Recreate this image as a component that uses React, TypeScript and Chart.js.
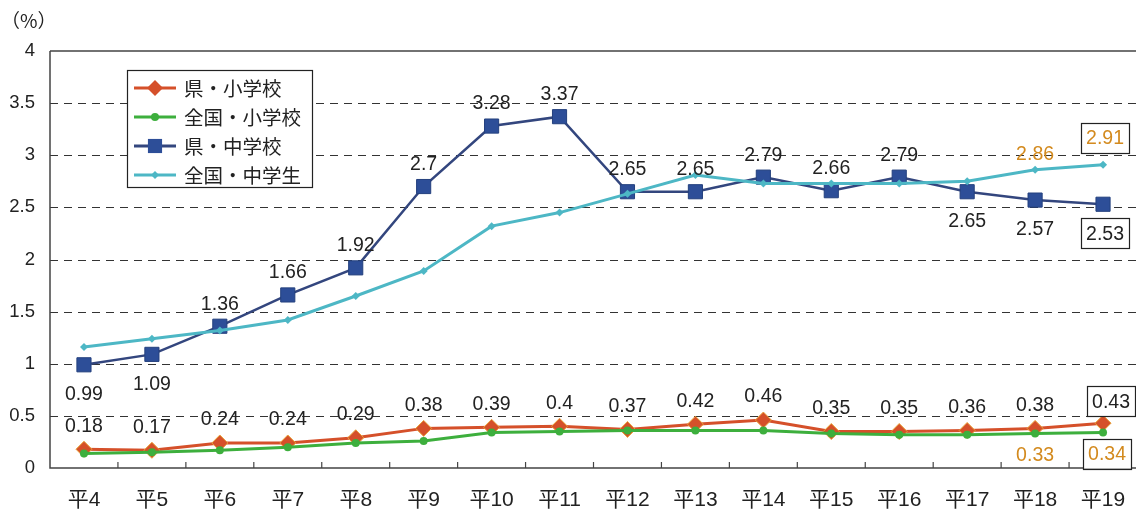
import React, { useEffect, useRef } from 'react';
import { Chart, registerables } from 'chart.js';

Chart.register(...registerables);

const categories = ['平4', '平5', '平6', '平7', '平8', '平9', '平10', '平11', '平12', '平13', '平14', '平15', '平16', '平17', '平18', '平19'];
const kenElem = [0.18, 0.17, 0.24, 0.24, 0.29, 0.38, 0.39, 0.4, 0.37, 0.42, 0.46, 0.35, 0.35, 0.36, 0.38, 0.43];
const zenElem = [0.14, 0.15, 0.17, 0.2, 0.24, 0.26, 0.34, 0.35, 0.36, 0.36, 0.36, 0.33, 0.32, 0.32, 0.33, 0.34];
const kenMid = [0.99, 1.09, 1.36, 1.66, 1.92, 2.7, 3.28, 3.37, 2.65, 2.65, 2.79, 2.66, 2.79, 2.65, 2.57, 2.53];
const zenMid = [1.16, 1.24, 1.32, 1.42, 1.65, 1.89, 2.32, 2.45, 2.63, 2.81, 2.73, 2.73, 2.73, 2.75, 2.86, 2.91];
const seriesNames = ['県・小学校', '全国・小学校', '県・中学校', '全国・中学生'];
const yTickValues = [0, 0.5, 1, 1.5, 2, 2.5, 3, 3.5, 4];

// label placement per point: 'a' above, 'b' below, '' none
const kenElemLabelPos = ['a', 'a', 'a', 'a', 'a', 'a', 'a', 'a', 'a', 'a', 'a', 'a', 'a', 'a', 'a', 'a'];
const zenElemLabelPos = ['', '', '', '', '', '', '', '', '', '', '', '', '', '', 'b', 'b'];
const kenMidLabelPos = ['b', 'b', 'a', 'a', 'a', 'a', 'a', 'a', 'a', 'a', 'a', 'a', 'a', 'b', 'b', 'b'];
const zenMidLabelPos = ['', '', '', '', '', '', '', '', '', '', '', '', '', '', 'a', 'a'];

const NUM_FONT = '"Liberation Sans", "Noto Sans CJK JP", sans-serif';
const JP_FONT = '"Noto Sans CJK JP", sans-serif';
const RED = '#D5502A';
const GREEN = '#3DAF3D';
const BLUE_LINE = '#33467E';
const BLUE_PT = '#2D4E98';
const CYAN = '#4DB7C5';
const ORANGE = '#D38A1E';
const TEXT = '#222222';

export default function App() {
  const ref = useRef<HTMLCanvasElement | null>(null);

  useEffect(() => {
    if (!ref.current) return;

    const decor = {
      id: 'decor',
      beforeDatasetsDraw(chart: any) {
        const { ctx, chartArea } = chart;
        const y = chart.scales.y;
        const x = chart.scales.x;
        ctx.save();
        ctx.strokeStyle = '#333';
        ctx.lineWidth = 1;
        ctx.setLineDash([8, 6]);
        yTickValues.forEach((v) => {
          if (v <= 0 || v >= 4) return;
          const py = Math.round(y.getPixelForValue(v)) + 0.5;
          ctx.beginPath();
          ctx.moveTo(chartArea.left, py);
          ctx.lineTo(chartArea.right, py);
          ctx.stroke();
        });
        ctx.setLineDash([]);
        ctx.lineWidth = 1.5;
        ctx.strokeStyle = '#444';
        ctx.beginPath();
        ctx.moveTo(chartArea.left, chartArea.top);
        ctx.lineTo(chartArea.right, chartArea.top);
        ctx.moveTo(chartArea.left, chartArea.top);
        ctx.lineTo(chartArea.left, chartArea.bottom);
        ctx.lineTo(chartArea.right, chartArea.bottom);
        ctx.stroke();
        // category boundary ticks (pointing up)
        ctx.lineWidth = 1.2;
        for (let i = 1; i < categories.length; i++) {
          const bx = (x.getPixelForValue(i - 1) + x.getPixelForValue(i)) / 2;
          ctx.beginPath();
          ctx.moveTo(bx, chartArea.bottom);
          ctx.lineTo(bx, chartArea.bottom - 6);
          ctx.stroke();
        }
        ctx.restore();
      },
      afterDatasetsDraw(chart: any) {
        const { ctx } = chart;
        const specs = [
          { data: kenElem, pos: kenElemLabelPos, color: TEXT, up: -24, down: 24 },
          { data: zenElem, pos: zenElemLabelPos, color: ORANGE, up: -24, down: 21 },
          { data: kenMid, pos: kenMidLabelPos, color: TEXT, up: -23, down: 29 },
          { data: zenMid, pos: zenMidLabelPos, color: ORANGE, up: -16, down: 24 },
        ];
        ctx.save();
        ctx.font = `19.5px ${NUM_FONT}`;
        ctx.textAlign = 'center';
        ctx.textBaseline = 'middle';
        specs.forEach((s, di) => {
          const meta = chart.getDatasetMeta(di);
          s.data.forEach((v, i) => {
            const p = s.pos[i];
            if (!p) return;
            const el = meta.data[i];
            const txt = String(v);
            const last = i === s.data.length - 1;
            let cy = el.y + (p === 'a' ? s.up : s.down);
            if (last && di === 3) cy = el.y - 27;
            if (last && di === 0) cy = el.y - 22;
            let cx = el.x;
            if (last) cx = di === 0 ? el.x + 8 : di === 1 ? el.x + 4 : el.x + 2;
            if (last) {
              const w = ctx.measureText(txt).width + 10;
              const h = 30;
              ctx.fillStyle = '#fff';
              ctx.fillRect(cx - w / 2, cy - h / 2, w, h);
              ctx.strokeStyle = '#222';
              ctx.lineWidth = 1.2;
              ctx.strokeRect(Math.round(cx - w / 2) + 0.5, Math.round(cy - h / 2) + 0.5, Math.round(w), h);
            }
            ctx.fillStyle = s.color;
            ctx.fillText(txt, cx, cy + 1);
          });
        });
        ctx.restore();
      },
      afterDraw(chart: any) {
        const { ctx } = chart;
        ctx.save();
        // unit
        ctx.fillStyle = TEXT;
        ctx.font = `19px ${JP_FONT}`;
        ctx.textAlign = 'left';
        ctx.textBaseline = 'middle';
        ctx.fillText('（%）', 1, 21);
        // legend
        const bx = 127, by = 70, bw = 185, bh = 117;
        ctx.fillStyle = '#fff';
        ctx.fillRect(bx, by, bw, bh);
        ctx.strokeStyle = '#222';
        ctx.lineWidth = 1.2;
        ctx.strokeRect(bx + 0.5, by + 0.5, bw, bh);
        const rows = [
          { c: RED, pc: RED, style: 'rectRot', r: 8, lw: 3 },
          { c: GREEN, pc: GREEN, style: 'circle', r: 4, lw: 3 },
          { c: BLUE_LINE, pc: BLUE_PT, style: 'rect', r: 10, lw: 3 },
          { c: CYAN, pc: CYAN, style: 'rectRot', r: 4, lw: 3 },
        ];
        rows.forEach((r, i) => {
          const ry = by + 18 + i * 29;
          ctx.strokeStyle = r.c;
          ctx.lineWidth = r.lw;
          ctx.beginPath();
          ctx.moveTo(bx + 7, ry);
          ctx.lineTo(bx + 49, ry);
          ctx.stroke();
          ctx.fillStyle = r.pc;
          ctx.beginPath();
          const cx = bx + 28;
          if (r.style === 'rectRot') {
            ctx.moveTo(cx, ry - r.r);
            ctx.lineTo(cx + r.r, ry);
            ctx.lineTo(cx, ry + r.r);
            ctx.lineTo(cx - r.r, ry);
            ctx.closePath();
          } else if (r.style === 'circle') {
            ctx.arc(cx, ry, r.r, 0, Math.PI * 2);
          } else {
            const s = r.r * Math.SQRT1_2;
            ctx.rect(cx - s, ry - s, 2 * s, 2 * s);
          }
          ctx.fill();
          ctx.fillStyle = TEXT;
          ctx.font = `19.5px ${JP_FONT}`;
          ctx.fillText(seriesNames[i], bx + 57, ry + 1);
        });
        ctx.restore();
      },
    };

    const chart = new Chart(ref.current, {
      type: 'line',
      data: {
        labels: categories,
        datasets: [
          {
            label: seriesNames[0],
            data: kenElem,
            borderColor: RED,
            backgroundColor: RED,
            pointBorderColor: '#E8A23A',
            pointBorderWidth: 1,
            pointStyle: 'rectRot',
            pointRadius: 8,
            borderWidth: 3,
            order: 2,
          },
          {
            label: seriesNames[1],
            data: zenElem,
            borderColor: GREEN,
            backgroundColor: GREEN,
            pointStyle: 'circle',
            pointRadius: 4,
            pointBorderWidth: 0,
            borderWidth: 3,
            order: 0,
          },
          {
            label: seriesNames[2],
            data: kenMid,
            borderColor: BLUE_LINE,
            backgroundColor: BLUE_PT,
            pointBorderColor: '#24407E',
            pointBorderWidth: 1,
            pointStyle: 'rect',
            pointRadius: 10,
            borderWidth: 2.5,
            order: 2,
          },
          {
            label: seriesNames[3],
            data: zenMid,
            borderColor: CYAN,
            backgroundColor: CYAN,
            pointStyle: 'rectRot',
            pointRadius: 4,
            pointBorderWidth: 0,
            borderWidth: 3,
            order: 0,
          },
        ],
      },
      options: {
        responsive: false,
        animation: false,
        events: [],
        layout: { padding: { top: 51, right: 1, left: 0, bottom: 0 } },
        plugins: {
          legend: { display: false },
          tooltip: { enabled: false },
          title: { display: false },
        },
        scales: {
          x: {
            type: 'category',
            offset: true,
            grid: { display: false, drawTicks: false },
            border: { display: false },
            ticks: {
              color: TEXT,
              font: { size: 21, family: NUM_FONT },
              padding: 20,
              maxRotation: 0,
              autoSkip: false,
            },
            afterFit: (s: any) => {
              s.height = 42;
              s.paddingLeft = 0;
              s.paddingRight = 0;
            },
          },
          y: {
            min: 0,
            max: 4,
            afterBuildTicks: (s: any) => {
              s.ticks = yTickValues.map((v) => ({ value: v }));
            },
            grid: { display: false, drawTicks: false },
            border: { display: false },
            ticks: {
              color: TEXT,
              font: { size: 18.5, family: NUM_FONT },
              padding: 15,
              callback: (v: any) => String(v),
            },
            afterFit: (s: any) => {
              s.width = 50;
            },
          },
        },
      },
      plugins: [decor],
    } as any);

    return () => chart.destroy();
  }, []);

  return (
    <div style={{ position: 'fixed', left: 0, top: 0, width: 1136, height: 510, overflow: 'hidden', background: '#fff' }}>
      <canvas ref={ref} width={1148} height={510} style={{ display: 'block', width: 1148, height: 510 }} />
    </div>
  );
}
